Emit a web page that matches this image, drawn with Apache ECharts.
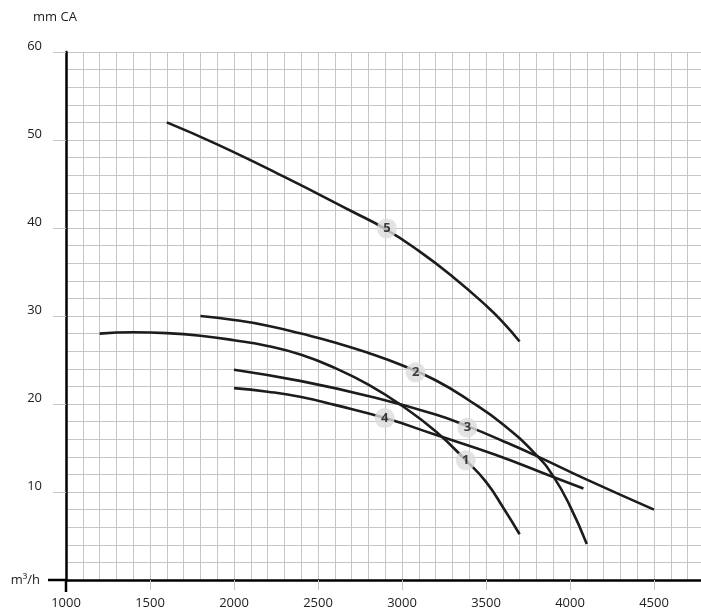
<!DOCTYPE html>
<html><head><meta charset="utf-8">
<script src="https://cdn.jsdelivr.net/npm/echarts@6/dist/echarts.min.js"></script>
<style>html,body{margin:0;padding:0;background:#fff}#c{width:701px;height:611px}</style>
</head><body><div id="c"></div>
<script>
// Pump curves: [flow m3/h, head mm CA]
const curve1 = [[1200,28],[1400,28.15],[1600,28.05],[1800,27.75],[2000,27.25],[2200,26.6],[2400,25.6],[2600,24.1],[2800,22.2],[3000,19.8],[3200,16.9],[3380,13.6],[3500,11.15],[3600,8.3],[3700,5.2]];
const curve2 = [[1800,30],[2000,29.55],[2200,28.9],[2400,28],[2600,27],[2800,25.8],[3000,24.4],[3200,22.7],[3400,20.4],[3600,17.7],[3800,14.2],[3900,11.8],[4000,8.4],[4100,4.1]];
const curve3 = [[2000,23.9],[2400,22.6],[2800,20.9],[3200,18.8],[3400,17.4],[3600,15.8],[3800,14.1],[4100,11.4],[4500,8]];
const curve4 = [[2000,21.8],[2200,21.4],[2400,20.8],[2600,19.9],[2900,18.4],[3200,16.5],[3560,14.2],[3900,11.7],[4080,10.4]];
const curve5 = [[1600,52],[1900,49.5],[2300,45.8],[2700,41.9],[2900,39.9],[3100,37.4],[3300,34.5],[3500,31.2],[3600,29.3],[3700,27.1]];
const labelNames = ['1','2','3','4','5'];
const labelPoints = [[3380,13.6],[3081,23.6],[3389,17.3],[2897,18.4],[2910,39.95]];
const xName = 'm³/h';
const yName = 'mm CA';

const font = 'Open Sans';
const gridColor = '#c6c6c8';
const lineColor = '#1c1c1c';
const curves = [curve1, curve2, curve3, curve4, curve5];

const chart = echarts.init(document.getElementById('c'), null, {renderer: 'canvas'});
const series = curves.map(c => ({
  type: 'line', data: c, smooth: 0.5, symbol: 'none',
  lineStyle: {color: lineColor, width: 2.6}, z: 2
}));
series.push({
  type: 'scatter', z: 5,
  data: labelPoints.map((p, i) => ({value: p, name: labelNames[i]})),
  symbol: 'circle', symbolSize: 20,
  itemStyle: {color: '#dcdcdc'},
  label: {show: true, position: 'inside', formatter: p => p.name, color: '#111',
    fontFamily: font, fontWeight: 'bold', fontSize: 13}
});

chart.setOption({
  animation: false,
  grid: {left: 66, top: 52, height: 528, width: 672, containLabel: false, outerBoundsMode: 'none'},
  xAxis: {
    type: 'value', min: 1000, max: 5000, interval: 500,
    name: xName, nameLocation: 'start', nameGap: 26,
    nameTextStyle: {fontFamily: font, fontSize: 13, color: '#222'},
    axisLine: {show: true, onZero: false, lineStyle: {color: '#000', width: 2.5}},
    axisTick: {show: true, length: 10, lineStyle: {color: gridColor, width: 1}},
    axisLabel: {fontFamily: font, fontSize: 13, color: '#222', margin: 17, formatter: v => String(v)},
    splitLine: {show: true, lineStyle: {color: gridColor, width: 1}},
    minorTick: {show: false, splitNumber: 5},
    minorSplitLine: {show: true, lineStyle: {color: gridColor, width: 1}}
  },
  yAxis: {
    type: 'value', min: 0, max: 60, interval: 10,
    name: yName, nameLocation: 'end', nameGap: 28,
    nameTextStyle: {fontFamily: font, fontSize: 13, color: '#222', padding: [0, 22, 0, 0]},
    axisLine: {show: true, onZero: false, lineStyle: {color: '#000', width: 2.5}},
    axisTick: {show: true, length: 13, lineStyle: {color: gridColor, width: 1}},
    axisLabel: {fontFamily: font, fontSize: 13, color: '#222', margin: 24, verticalAlign: 'bottom',
      padding: [0, 0, -1, 0], showMinLabel: false, formatter: v => String(v)},
    splitLine: {show: true, lineStyle: {color: gridColor, width: 1}},
    minorTick: {show: false, splitNumber: 5},
    minorSplitLine: {show: true, lineStyle: {color: gridColor, width: 1}}
  },
  series: series
});

const o = chart.convertToPixel({gridIndex: 0}, [1000, 0]);
chart.setOption({
  graphic: [
    {type: 'line', shape: {x1: o[0] - 18, y1: o[1], x2: o[0], y2: o[1]}, style: {stroke: '#000', lineWidth: 2.5}, z: 10},
    {type: 'line', shape: {x1: o[0], y1: o[1], x2: o[0], y2: o[1] + 12}, style: {stroke: '#000', lineWidth: 2.5}, z: 10}
  ]
});
</script></body></html>
